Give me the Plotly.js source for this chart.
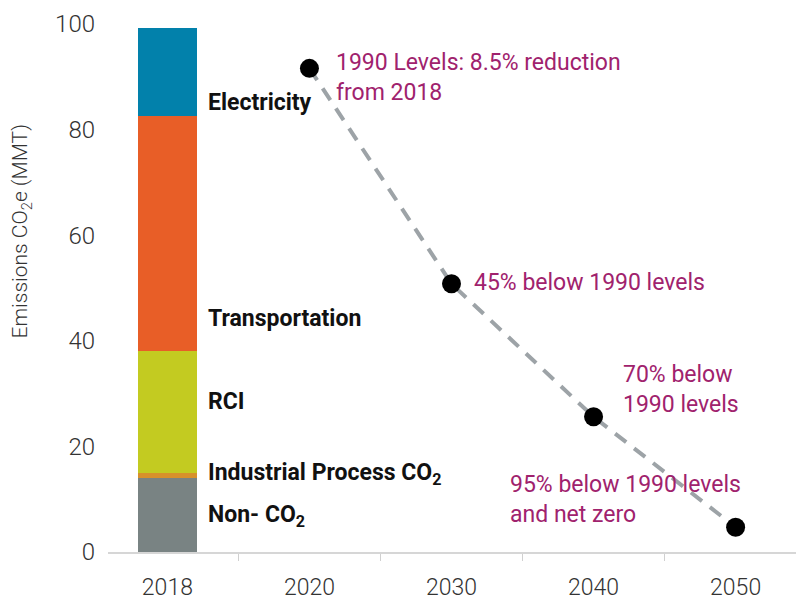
<!DOCTYPE html>
<html>
<head>
<meta charset="utf-8">
<script src="https://cdn.plot.ly/plotly-3.0.1.min.js"></script>
<style>
  html, body { margin: 0; padding: 0; background: #fff; }
  #chart { width: 796px; height: 603px; }
</style>
</head>
<body>
<div id="chart"></div>
<script>
// ---- data ----
const years = ['2018', '2020', '2030', '2040', '2050'];
const sectorNames = ['Non- CO<sub>2</sub>', 'Industrial Process CO<sub>2</sub>', 'RCI', 'Transportation', 'Electricity'];
const sectorValues2018 = [14.1, 0.9, 23.0, 44.6, 16.7];
const targetYears = ['2020', '2030', '2040', '2050'];
const targetValues = [91.6, 50.8, 25.6, 4.7];
const targetLabels = [
  '1990 Levels: 8.5% reduction<br>from 2018',
  '45% below 1990 levels',
  '70% below<br>1990 levels',
  '95% below 1990 levels<br>and net zero'
];
const yTicks = [0, 20, 40, 60, 80, 100];

// ---- styles ----
const sectorColors = ['#798383', '#D8912B', '#C3CB21', '#E85E27', '#0281AB'];
const labelColor = '#A0226D';
const fontFamily = 'Roboto, "Open Sans", sans-serif';

const traces = sectorNames.map((name, i) => ({
  type: 'bar',
  name: name,
  x: [years[0]],
  y: [sectorValues2018[i]],
  marker: { color: sectorColors[i], line: { width: 0 } },
  width: 0.413,
  hoverinfo: 'name+y'
}));

traces.push({
  type: 'scatter',
  mode: 'lines+markers',
  name: 'Targets',
  x: targetYears,
  y: targetValues,
  line: { color: '#9DA3A7', width: 4, dash: '14px,10px' },
  marker: { color: '#000', size: 19 },
  text: targetLabels,
  hoverinfo: 'x+y'
});

// label placements (in axis units)
const sectorLabelPos = [
  { x: 0.27, y: 6.9 },
  { x: 0.27, y: 14.7 },
  { x: 0.27, y: 28.5 },
  { x: 0.27, y: 44.2 },
  { x: 0.27, y: 85.1 }
];
const targetLabelPos = [
  { x: 1.17, y: 89.9 },
  { x: 2.145, y: 51.1 },
  { x: 3.19, y: 30.8 },
  { x: 2.40, y: 10.0 }
];

const annotations = [];
sectorNames.forEach((name, i) => {
  annotations.push({
    xref: 'x', yref: 'y', x: sectorLabelPos[i].x, y: sectorLabelPos[i].y,
    text: name, showarrow: false, xanchor: 'left', yanchor: 'middle', align: 'left',
    font: { family: fontFamily, size: 23, color: '#111', weight: 700 }
  });
});
targetLabels.forEach((t, i) => {
  annotations.push({
    xref: 'x', yref: 'y', x: targetLabelPos[i].x, y: targetLabelPos[i].y,
    text: t, showarrow: false, xanchor: 'left', yanchor: 'middle', align: 'left',
    font: { family: fontFamily, size: 23, color: labelColor }
  });
});
annotations.push({
  xref: 'paper', yref: 'paper', x: -0.125, y: 0.607,
  text: 'Emissions CO<sub>2</sub>e (MMT)', textangle: -90, showarrow: false,
  xanchor: 'center', yanchor: 'middle',
  font: { family: fontFamily, size: 21, color: '#333', weight: 300 }
});

const layout = {
  width: 796, height: 603,
  margin: { l: 108, r: 0, t: 24, b: 51 },
  paper_bgcolor: '#fff', plot_bgcolor: '#fff',
  barmode: 'stack',
  showlegend: false,
  xaxis: {
    type: 'category',
    categoryorder: 'array', categoryarray: years,
    range: [-0.418, 4.425],
    showgrid: false, zeroline: false,
    showline: true, linecolor: '#d6d6d6', linewidth: 2,
    ticks: 'outside', tickson: 'boundaries', ticklen: 7, tickcolor: '#d0d0d0', tickwidth: 1,
    ticklabelstandoff: 13,
    tickfont: { family: fontFamily, size: 23, color: '#333', weight: 300 },
    fixedrange: true
  },
  yaxis: {
    range: [0, 100],
    tickvals: yTicks, ticktext: yTicks.map(String),
    showgrid: false, zeroline: false, showline: false, ticks: '',
    ticklabelstandoff: 12,
    tickfont: { family: fontFamily, size: 24, color: '#333', weight: 300 },
    fixedrange: true
  },
  annotations: annotations
};

Plotly.newPlot('chart', traces, layout, { displayModeBar: false, staticPlot: true });
</script>
</body>
</html>
